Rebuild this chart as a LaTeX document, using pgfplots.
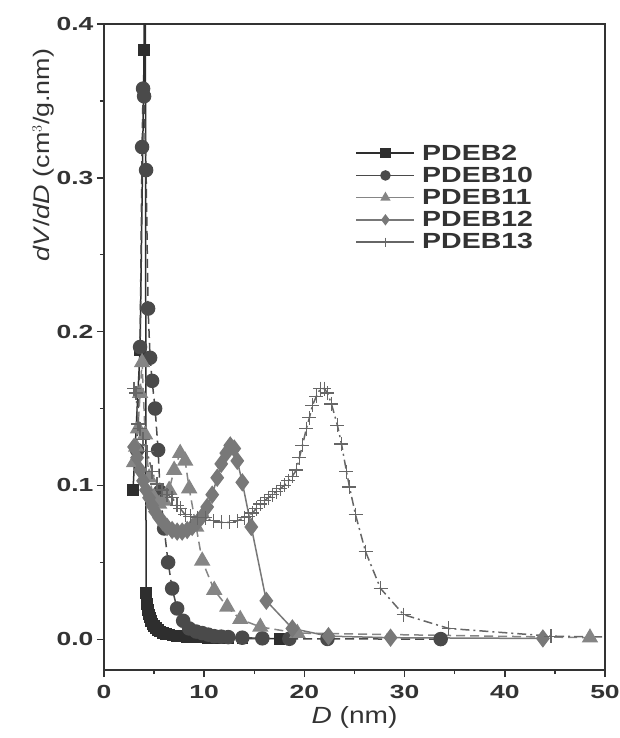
\documentclass[border=0pt]{standalone}
\usepackage{fontspec}
\setmainfont{Liberation Sans}
\newfontfamily\tickfont[FakeStretch=1.4]{Liberation Sans}
\newfontfamily\labelfont[FakeStretch=1.2]{Liberation Sans}
\newfontfamily\legfont[FakeStretch=1.3]{Liberation Sans}
\usepackage{pgfplots}
\pgfplotsset{compat=1.18}

\definecolor{axisgray}{HTML}{333333}
\definecolor{cA}{HTML}{2E2E2E}
\definecolor{cB}{HTML}{4A4A4A}
\definecolor{cC}{HTML}{858585}
\definecolor{cD}{HTML}{787878}
\definecolor{cE}{HTML}{666666}

\begin{document}
\begin{tikzpicture}
\begin{axis}[
  name=ax,
  scale only axis,
  width=501bp, height=646bp,
  xmin=0, xmax=50, ymin=-0.02, ymax=0.4,
  xtick={0,10,20,30,40,50},
  ytick={0,0.1,0.2,0.3,0.4},
  minor xtick={5,15,25,35,45},
  minor ytick={0.05,0.15,0.25,0.35},
  xtick pos=bottom, ytick pos=left,
  tick align=outside,
  major tick length=7bp, minor tick length=4bp,
  every tick/.style={axisgray, line width=1.4bp},
  axis line style={axisgray, line width=1.6bp},
  /pgf/number format/assume math mode=true,
  yticklabel style={/pgf/number format/.cd, fixed, fixed zerofill, precision=1},
  ticklabel style={font=\tickfont\bfseries\fontsize{19}{22}\selectfont, text=axisgray},
  xticklabel style={yshift=-5bp},
  scaled y ticks=false,
  xlabel={\textit{D} (nm)},
  ylabel={\textit{dV}/\textit{dD} (cm$^3$/g.nm)},
  xlabel style={font=\labelfont\fontsize{23.5}{27}\selectfont, text=axisgray, yshift=-1bp},
  ylabel style={font=\labelfont\fontsize{22.5}{26}\selectfont, text=axisgray,
    at={(ticklabel cs:0.797)}, yshift=-4bp},
  clip=true,
  legend style={draw=none, fill=none, at={(0.5,0.818)}, anchor=north west,
    font=\legfont\bfseries\fontsize{22}{23}\selectfont, text=axisgray,
    row sep=1.5bp, inner sep=1bp,
    /tikz/every odd column/.append style={column sep=5bp}},
  legend cell align=left,
  legend image code/.code={%
    \draw[mark repeat=2, mark phase=2, mark size=4.5bp, solid]
      plot coordinates {(0bp,0bp) (29bp,0bp) (58bp,0bp)};},
]

% PDEB2
\addplot[cA, line width=1.5bp, mark=square*, mark size=5bp,
  mark options={solid, fill=cA, draw=cA}] coordinates {
  (2.9,0.097) (3.6,0.188) (4.0,0.383) (4.1,0.60) (4.2,0.030)
  (4.3,0.023) (4.4,0.019) (4.5,0.016) (4.6,0.014) (4.7,0.012)
  (4.85,0.010) (5.0,0.0085) (5.2,0.0072) (5.4,0.006) (5.6,0.005)
  (5.9,0.0042) (6.2,0.0035) (6.5,0.003) (6.9,0.0025) (7.3,0.002)
  (7.8,0.0017) (8.3,0.0014) (8.9,0.0012) (9.6,0.001) (10.4,0.0008)
  (11.3,0.0007) (12.4,0.0006) (13.8,0.0005) (17.5,0.0003)};
\addlegendentry{PDEB2}

% PDEB10
\addplot[cB, line width=1.5bp, dash pattern=on 9bp off 5bp, mark=*, mark size=6.5bp,
  mark options={solid, fill=cB, draw=cB}] coordinates {
  (3.3,0.123) (3.6,0.19) (3.8,0.32) (3.9,0.358) (4.0,0.353)
  (4.2,0.305) (4.4,0.215) (4.6,0.183) (4.8,0.168) (5.1,0.15)
  (5.4,0.123) (5.6,0.096) (6.0,0.072) (6.4,0.050) (6.8,0.033)
  (7.3,0.020) (7.9,0.012) (8.5,0.007) (9.2,0.005) (9.8,0.004)
  (10.4,0.003) (11.0,0.002) (11.7,0.0017) (12.4,0.0014) (13.8,0.001)
  (15.8,0.0006) (18.5,0.0003) (22.3,0.0002) (33.6,0.0001)};
\addlegendentry{PDEB10}

% PDEB11
\addplot[cC, line width=1.5bp, dash pattern=on 9bp off 5bp, mark=triangle*, mark size=8bp,
  mark options={solid, fill=cC, draw=cC}] coordinates {
  (3.0,0.115) (3.2,0.125) (3.4,0.137) (3.6,0.160) (3.8,0.180)
  (4.1,0.133) (4.5,0.105) (5.0,0.092) (5.5,0.088) (6.0,0.090)
  (6.5,0.097) (7.0,0.110) (7.6,0.121) (8.1,0.116) (8.5,0.098)
  (9.2,0.073) (9.8,0.051) (11.0,0.032) (12.3,0.021) (13.6,0.013)
  (15.6,0.008) (19.3,0.004) (48.5,0.001)};
\addlegendentry{PDEB11}

% PDEB12
\addplot[cD, line width=1.5bp, mark=diamond*, mark size=8bp,
  mark options={solid, fill=cD, draw=cD}] coordinates {
  (3.0,0.125) (3.3,0.118) (3.6,0.110) (3.9,0.103) (4.2,0.097)
  (4.5,0.092) (4.8,0.087) (5.1,0.083) (5.5,0.079) (5.9,0.076)
  (6.3,0.073) (6.8,0.071) (7.3,0.070) (7.8,0.070) (8.3,0.071)
  (8.8,0.073) (9.3,0.076) (9.8,0.080) (10.3,0.086) (10.8,0.094)
  (11.3,0.105) (11.7,0.114) (12.2,0.121) (12.6,0.126) (13.0,0.124)
  (13.3,0.116) (13.8,0.102) (14.7,0.073) (16.2,0.025) (18.8,0.007)
  (22.4,0.002) (28.6,0.001) (43.8,0.0005)};
\addlegendentry{PDEB12}

% PDEB13
\addplot[cE, line width=1.5bp, dash pattern=on 9bp off 4bp on 2bp off 4bp, mark=+, mark size=7bp,
  mark options={solid, draw=cE, line width=1.3bp}] coordinates {
  (3.0,0.163) (3.2,0.160) (3.4,0.140) (3.6,0.137) (3.9,0.130)
  (4.3,0.122) (4.8,0.109) (5.3,0.101) (5.8,0.097) (6.3,0.094)
  (6.8,0.092) (7.3,0.087) (7.6,0.085) (8.1,0.081) (8.6,0.080)
  (9.3,0.079) (10.1,0.079) (10.9,0.077) (11.7,0.076) (12.5,0.076)
  (13.3,0.077) (14.0,0.079) (14.4,0.080) (14.8,0.082) (15.2,0.085)
  (15.6,0.088) (16.0,0.090) (16.4,0.092) (16.8,0.094) (17.2,0.096)
  (17.6,0.098) (18.0,0.100) (18.4,0.103) (18.8,0.106) (19.2,0.110)
  (19.5,0.118) (19.8,0.126) (20.2,0.137) (20.5,0.144) (20.8,0.152)
  (21.2,0.158) (21.6,0.163) (22.0,0.163) (22.3,0.160) (22.7,0.153)
  (23.3,0.139) (23.7,0.127) (24.2,0.109) (24.5,0.099) (25.1,0.081)
  (26.1,0.057) (27.6,0.033) (29.9,0.016) (34.4,0.007) (44.6,0.002)
  (55,0.001)};
\addlegendentry{PDEB13}

\end{axis}
\pgfresetboundingbox
\path ([xshift=-104bp,yshift=-68bp]ax.south west) rectangle ([xshift=15bp,yshift=24bp]ax.north east);
\end{tikzpicture}
\end{document}
